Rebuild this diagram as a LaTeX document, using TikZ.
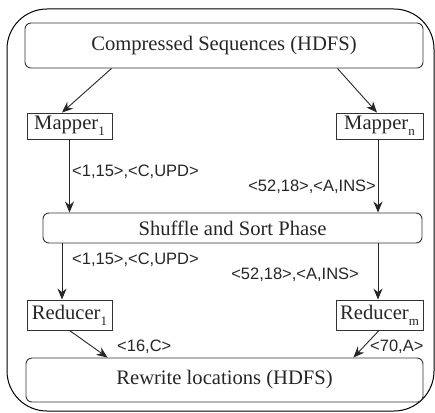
\documentclass[tikz,border=0pt]{standalone}
\usepackage{fontspec}
\setmainfont{Liberation Serif}
\newfontfamily\labsans{Liberation Sans}
\usetikzlibrary{arrows.meta}
\newcommand\mysub[1]{\raisebox{-0.28em}{\fontsize{13}{13}\selectfont #1}}
\tikzset{
  box/.style={draw=black!80, line width=0.9pt, inner sep=0pt, font=\fontsize{20.6}{22}\selectfont, text=black!85},
  rbox/.style={box, rounded corners=6pt},
  lab/.style={inner sep=0pt, font=\labsans\fontsize{16.5}{18}\selectfont, text=black!85},
  arr/.style={draw=black!85, line width=0.9pt, -{Stealth[length=11pt,width=9pt]}},
  outerbox/.style={draw=black, line width=1pt, rounded corners=40pt, inner sep=0pt}
}
\begin{document}
\begin{tikzpicture}[x=1pt,y=-1pt]
\useasboundingbox (0,0) rectangle (435,412);
\node[outerbox, minimum width=427pt, minimum height=402pt] (outer) at (220.5,210) {};

\node[rbox, minimum width=398pt, minimum height=45pt] (comp) at (224,45.5) {Compressed Sequences (HDFS)};
\node[box, minimum width=85pt, minimum height=26pt] (m1) at (69.5,126) {Mapper\mysub{1}};
\node[box, minimum width=87pt, minimum height=26pt] (mn) at (379.5,126) {Mapper\mysub{n}};
\node[rbox, minimum width=379pt, minimum height=30pt] (shuf) at (232.5,228) {Shuffle and Sort Phase};
\node[box, minimum width=85pt, minimum height=30pt] (r1) at (69.5,315) {Reducer\mysub{1}};
\node[box, minimum width=87pt, minimum height=30pt] (rm) at (379.5,315) {Reducer\mysub{m}};
\node[rbox, minimum width=397pt, minimum height=44pt] (rw) at (224.5,380) {Rewrite locations (HDFS)};

\draw[arr] ([xshift=87pt]comp.south west) -- ([xshift=-7.5pt]m1.north);
\draw[arr] ([xshift=-86pt]comp.south east) -- ([xshift=-2.5pt]mn.north);
\draw[arr] (m1.south) -- (m1.south |- shuf.north);
\draw[arr] ([xshift=-1.5pt]mn.south) -- ([xshift=-1.5pt]mn.south |- shuf.north);
\draw[arr] ([xshift=-7.5pt]r1.north |- shuf.south) -- ([xshift=-7.5pt]r1.north);
\draw[arr] ([xshift=-1.5pt]rm.north |- shuf.south) -- ([xshift=-1.5pt]rm.north);
\draw[arr] (r1.south) -- ([xshift=82pt]rw.north west);
\draw[arr] ([xshift=-0.5pt]rm.south) -- ([xshift=-70pt]rw.north east);

\node[lab, anchor=west] (l1) at (72,172) {<1,15>,<C,UPD>};
\node[lab, anchor=east] (l2) at (376,187) {<52,18>,<A,INS>};
\node[lab, anchor=west] (l3) at (72,260) {<1,15>,<C,UPD>};
\node[lab, anchor=east] (l4) at (359,275) {<52,18>,<A,INS>};
\node[lab, anchor=west] (l5) at (117,347) {<16,C>};
\node[lab, anchor=west] (l6) at (370,347) {<70,A>};
\end{tikzpicture}
\end{document}
